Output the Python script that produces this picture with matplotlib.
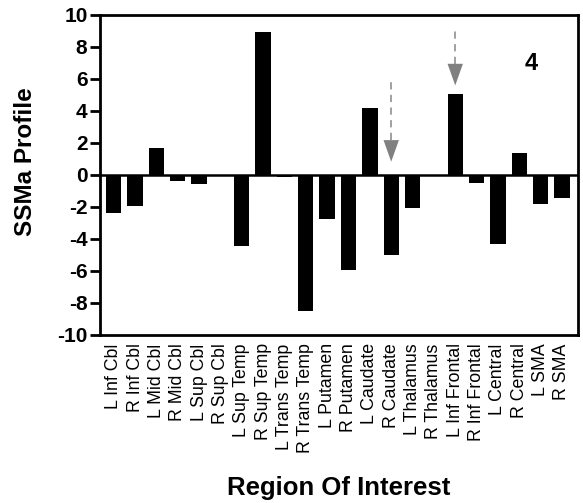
import matplotlib
matplotlib.use("Agg")
import matplotlib.pyplot as plt
import numpy as np

plt.rcParams['font.family'] = ['Liberation Sans', 'DejaVu Sans']

regions = ["L Inf Cbl", "R Inf Cbl", "L Mid Cbl", "R Mid Cbl", "L Sup Cbl", "R Sup Cbl",
           "L Sup Temp", "R Sup Temp", "L Trans Temp", "R Trans Temp", "L Putamen",
           "R Putamen", "L Caudate", "R Caudate", "L Thalamus", "R Thalamus",
           "L Inf Frontal", "R Inf Frontal", "L Central", "R Central", "L SMA", "R SMA"]
values = [-2.36, -1.92, 1.7, -0.37, -0.58, 0.0, -4.44, 8.96, -0.15, -8.48, -2.75,
          -5.94, 4.17, -5.0, -2.08, 0.0, 5.08, -0.52, -4.31, 1.4, -1.83, -1.42]
yticks = [-10, -8, -6, -4, -2, 0, 2, 4, 6, 8, 10]
arrow_regions = ["R Caudate", "L Inf Frontal"]
arrow_tips = [0.83, 5.6]
arrow_tops = [5.83, 9.06]
panel_label = "4"

fig = plt.figure(figsize=(5.83, 5.03), dpi=100)
ax = fig.add_axes([100/583, 1-335/503, 478/583, 320/503])

x = np.arange(len(regions))
ax.bar(x, values, width=0.72, color='black', zorder=2)
ax.axhline(0, color='black', lw=1.8, zorder=3)

for r, tip, top in zip(arrow_regions, arrow_tips, arrow_tops):
    i = regions.index(r)
    head_len = 1.35
    ax.plot([i, i], [tip + head_len, top], color='#999999', lw=1.3, ls=(0, (4, 3)), zorder=4)
    ax.fill([i - 0.36, i + 0.36, i], [tip + head_len, tip + head_len, tip],
            color='#808080', lw=0, zorder=4)

ax.text(19.55, 7.0, panel_label, fontsize=17, fontweight='bold', ha='center', va='center')

ax.set_xlim(-0.64, 21.75)
ax.set_ylim(-10, 10)
ax.set_yticks(yticks)
ax.set_yticklabels([str(t) for t in yticks], fontsize=15, fontweight='bold')
ax.set_xticks(x)
ax.set_xticklabels(regions, rotation=90, fontsize=12.8)
ax.tick_params(axis='x', length=0, pad=6)
ax.tick_params(axis='y', length=7, width=2, pad=2)
for s in ax.spines.values():
    s.set_linewidth(2)

fig.text(26/583, 1-162/503, "SSMa Profile", rotation=90, fontsize=17.5,
         fontweight='bold', ha='center', va='center')
fig.text(339/583, 1-488/503, "Region Of Interest", fontsize=18.5,
         fontweight='bold', ha='center', va='center')

fig.savefig("out.png", dpi=100)
